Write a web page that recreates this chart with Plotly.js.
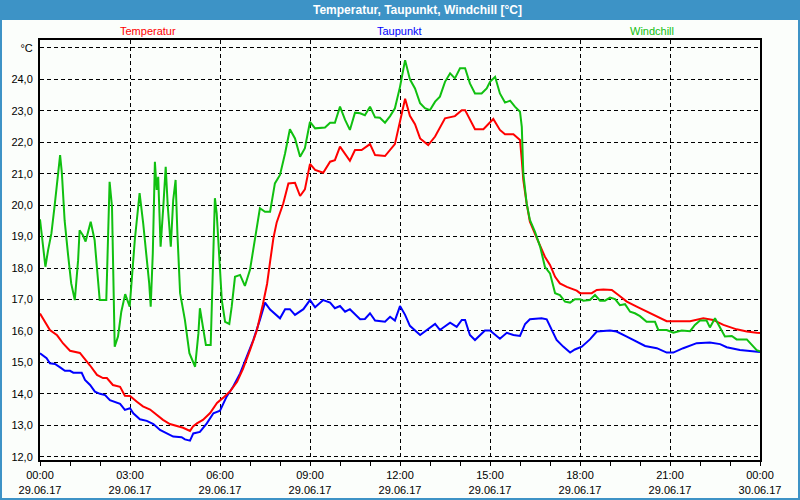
<!DOCTYPE html>
<html>
<head>
<meta charset="utf-8">
<script src="https://cdn.plot.ly/plotly-3.0.1.min.js"></script>
<style>html,body{margin:0;padding:0;background:#fbfefb;}#chart{width:800px;height:500px;}</style>
</head>
<body>
<div id="chart"></div>
<script>
// ---- data (hours since 29.06.17 00:00, °C) ----
const tempHours = [0.00,0.33,0.57,0.77,1.00,1.33,1.67,1.90,2.10,2.23,2.43,2.67,2.83,3.00,3.23,3.43,3.67,3.90,4.10,4.33,4.57,4.77,5.00,5.10,5.23,5.43,5.67,5.90,6.10,6.33,6.57,6.77,7.00,7.23,7.43,7.57,7.67,7.78,7.89,8.00,8.11,8.28,8.50,8.67,8.83,9.00,9.17,9.44,9.67,9.83,10.00,10.33,10.50,10.72,11.00,11.17,11.50,11.83,12.00,12.17,12.33,12.50,12.67,12.94,13.17,13.50,13.83,14.06,14.17,14.50,14.78,15.11,15.33,15.50,15.78,16.00,16.06,16.11,16.22,16.33,16.56,16.83,17.00,17.17,17.33,17.56,17.89,18.00,18.39,18.56,18.78,19.06,19.28,19.56,19.89,20.22,20.56,20.89,21.67,22.11,22.44,22.78,23.22,23.56,23.89,24.00];
const tempValues = [16.55,16.03,15.86,15.60,15.37,15.30,14.90,14.60,14.50,14.50,14.28,14.22,13.94,13.93,13.75,13.60,13.50,13.33,13.17,13.04,12.98,12.92,12.82,12.96,13.06,13.17,13.39,13.71,13.87,14.07,14.38,14.80,15.39,16.02,16.85,17.50,18.20,18.95,19.45,19.75,20.06,20.69,20.71,20.29,20.50,21.31,21.12,21.03,21.38,21.43,21.86,21.41,21.75,21.75,21.94,21.59,21.56,21.94,22.71,23.38,22.84,22.57,22.12,21.91,22.18,22.76,22.83,23.02,23.02,22.41,22.41,22.74,22.39,22.25,22.25,22.07,21.43,20.80,20.06,19.47,18.95,18.36,18.10,17.72,17.51,17.40,17.28,17.20,17.20,17.30,17.32,17.30,17.14,16.93,16.77,16.61,16.45,16.31,16.31,16.40,16.35,16.19,16.05,15.98,15.94,15.93];

const dewHours = [0.00,0.22,0.33,0.50,0.67,0.83,1.00,1.11,1.39,1.50,1.67,1.83,2.00,2.17,2.33,2.50,2.67,2.83,3.00,3.11,3.33,3.56,3.78,4.00,4.22,4.44,4.72,4.83,5.00,5.11,5.33,5.56,5.78,6.00,6.22,6.44,6.67,6.89,7.11,7.33,7.50,7.67,7.89,8.00,8.17,8.33,8.50,8.78,9.00,9.17,9.44,9.67,9.83,10.00,10.17,10.33,10.67,10.83,11.00,11.17,11.50,11.67,11.83,12.00,12.17,12.33,12.67,13.00,13.17,13.33,13.67,13.89,14.06,14.17,14.33,14.50,14.83,15.00,15.33,15.56,15.78,16.00,16.17,16.33,16.72,16.89,17.06,17.22,17.44,17.67,17.83,18.06,18.33,18.56,19.00,19.22,19.56,19.89,20.17,20.56,20.89,21.11,21.44,21.89,22.33,22.67,22.89,23.33,23.78,24.00];
const dewValues = [15.29,15.13,14.97,14.95,14.84,14.73,14.73,14.67,14.67,14.44,14.28,14.07,14.00,13.96,13.80,13.73,13.68,13.49,13.54,13.38,13.19,13.14,13.04,12.85,12.74,12.64,12.62,12.55,12.51,12.74,12.79,13.06,13.38,13.46,13.91,14.23,14.65,15.18,15.71,16.35,16.90,16.68,16.51,16.40,16.69,16.69,16.51,16.69,16.98,16.75,16.98,16.90,16.72,16.79,16.61,16.69,16.37,16.38,16.56,16.33,16.29,16.45,16.33,16.79,16.51,16.16,15.87,16.11,16.22,16.03,16.26,16.13,16.35,16.35,15.87,15.71,16.01,16.01,15.75,15.94,15.87,15.84,16.22,16.37,16.40,16.37,16.03,15.71,15.50,15.31,15.41,15.50,15.73,15.98,16.01,15.98,15.82,15.66,15.52,15.45,15.31,15.31,15.45,15.61,15.63,15.58,15.48,15.39,15.36,15.33];

const chillHours = [0.00,0.13,0.18,0.27,0.38,0.49,0.60,0.67,0.73,0.82,0.93,1.04,1.16,1.27,1.32,1.43,1.52,1.69,1.82,1.99,2.21,2.27,2.32,2.40,2.49,2.60,2.71,2.84,2.99,3.16,3.32,3.44,3.56,3.64,3.69,3.76,3.83,3.89,3.94,4.02,4.11,4.19,4.26,4.36,4.44,4.52,4.58,4.67,4.83,4.98,5.17,5.28,5.33,5.44,5.53,5.69,5.76,5.83,5.89,5.96,6.06,6.17,6.31,6.39,6.50,6.67,6.83,7.00,7.17,7.33,7.50,7.67,7.83,8.00,8.17,8.33,8.50,8.67,8.83,9.00,9.17,9.50,9.67,9.83,10.00,10.17,10.33,10.50,10.67,10.83,11.00,11.17,11.33,11.50,11.67,11.83,12.00,12.17,12.33,12.50,12.67,12.83,13.00,13.17,13.33,13.50,13.67,13.83,14.00,14.17,14.33,14.50,14.72,14.89,15.00,15.17,15.33,15.50,15.67,15.83,16.00,16.06,16.11,16.22,16.33,16.50,16.67,16.83,17.00,17.17,17.33,17.50,17.67,17.83,18.00,18.11,18.33,18.50,18.67,18.83,19.00,19.17,19.33,19.50,19.67,19.83,20.00,20.22,20.50,20.61,20.89,21.11,21.39,21.67,21.83,22.00,22.22,22.33,22.50,22.67,22.83,23.06,23.22,23.56,23.72,23.89,24.00];
const chillValues = [19.55,18.57,18.04,18.57,19.10,20.00,21.01,21.59,21.01,19.52,18.47,17.51,16.98,18.25,19.20,19.04,18.84,19.47,18.89,16.98,16.98,19.10,20.74,19.95,15.50,15.82,16.61,17.17,16.77,18.89,20.38,19.42,18.36,17.51,16.77,18.47,21.38,20.48,20.90,18.68,19.95,21.22,19.95,18.68,20.16,20.80,19.10,17.20,16.35,15.29,14.86,15.92,16.72,16.13,15.55,15.55,17.83,20.22,19.74,18.68,16.98,16.29,16.22,16.77,17.72,17.78,17.43,17.94,18.89,19.90,19.79,19.79,20.69,20.96,21.65,22.41,22.12,21.54,21.81,22.65,22.44,22.47,22.62,22.62,23.13,22.71,22.39,22.94,22.92,22.86,23.13,22.79,22.78,22.62,22.83,23.08,23.76,24.61,24.00,23.71,23.24,23.08,23.02,23.29,23.45,23.92,24.19,24.03,24.35,24.35,23.87,23.55,23.55,23.71,23.92,24.08,23.55,23.26,23.32,23.13,22.97,22.49,21.01,20.06,19.53,19.15,18.68,18.04,17.83,17.20,17.14,16.93,16.90,17.01,17.01,16.96,16.98,17.14,16.96,16.96,17.06,17.01,16.82,16.85,16.61,16.56,16.47,16.29,16.29,16.03,16.03,15.94,16.01,15.99,16.19,16.33,16.33,16.11,16.40,16.11,15.82,15.84,15.73,15.73,15.55,15.39,15.35];

const seriesNames = ['Temperatur','Taupunkt','Windchill'];
const seriesColors = ['#ff0000','#0000ff','#10c010'];

const xTickVals = [0,3,6,9,12,15,18,21,24];
const xTickText = ['00:00<br>29.06.17','03:00<br>29.06.17','06:00<br>29.06.17','09:00<br>29.06.17','12:00<br>29.06.17','15:00<br>29.06.17','18:00<br>29.06.17','21:00<br>29.06.17','00:00<br>30.06.17'];
const yTickVals = [12,13,14,15,16,17,18,19,20,21,22,23,24,25];
const yTickText = ['12,0','13,0','14,0','15,0','16,0','17,0','18,0','19,0','20,0','21,0','22,0','23,0','24,0','°C'];

const chartTitle = 'Temperatur, Taupunkt, Windchill [°C]';

// ---- figure ----
const W = 800, H = 500, mL = 40, mR = 40, mT = 40, mB = 40;
const pw = W - mL - mR, ph = H - mT - mB;
const px = x => (x - mL) / pw;          // pixel -> paper x
const py = y => (H - mB - y) / ph;      // pixel -> paper y

const traces = [
  {x: dewHours, y: dewValues, name: seriesNames[1], color: seriesColors[1]},
  {x: tempHours, y: tempValues, name: seriesNames[0], color: seriesColors[0]},
  {x: chillHours, y: chillValues, name: seriesNames[2], color: seriesColors[2]}
].map(s => ({x: s.x, y: s.y, name: s.name, type: 'scatter', mode: 'lines',
  line: {color: s.color, width: 2}, hoverinfo: 'skip'}));

const font = {family: 'Liberation Sans, Arial, sans-serif', size: 11, color: '#000'};

const layout = {
  width: W, height: H,
  margin: {l: mL, r: mR, t: mT, b: mB, pad: 0},
  paper_bgcolor: '#fbfefb', plot_bgcolor: '#fbfefb',
  showlegend: false,
  font: font,
  xaxis: {
    range: [0, 24], tickmode: 'array', tickvals: xTickVals, ticktext: xTickText,
    showgrid: true, gridcolor: '#000', gridwidth: 1, griddash: '4px,3px',
    zeroline: false, showline: true, linecolor: '#000', linewidth: 2, mirror: true,
    ticks: 'outside', ticklen: 4, tickcolor: '#000', tickwidth: 1,
    minor: {tickmode: 'linear', tick0: 0, dtick: 1, ticks: 'outside', ticklen: 4, tickcolor: '#000', showgrid: false},
    tickfont: font, fixedrange: true
  },
  yaxis: {
    range: [11.895, 25.25], tickmode: 'array', tickvals: yTickVals, ticktext: yTickText,
    showgrid: true, gridcolor: '#000', gridwidth: 1, griddash: '4px,3px',
    zeroline: false, showline: true, linecolor: '#000', linewidth: 2, mirror: true,
    ticks: '', ticklabelstandoff: 3, tickfont: font, fixedrange: true
  },
  shapes: [
    {type: 'rect', xref: 'paper', yref: 'paper', layer: 'below',
     x0: px(0), x1: px(W), y0: py(20), y1: py(0), fillcolor: '#3d93c6', line: {width: 0}},
    {type: 'rect', xref: 'paper', yref: 'paper',
     x0: px(0), x1: px(W), y0: py(H), y1: py(0), fillcolor: 'rgba(0,0,0,0)', line: {color: '#3d93c6', width: 4}}
  ],
  annotations: [
    {xref: 'paper', yref: 'paper', x: px(417), y: py(10), xanchor: 'center', yanchor: 'middle',
     text: '<b>' + chartTitle + '</b>', showarrow: false, font: {family: font.family, size: 12, color: '#ffffff'}},
    {xref: 'paper', yref: 'paper', x: px(148), y: py(31), xanchor: 'center', yanchor: 'middle',
     text: seriesNames[0], showarrow: false, font: {family: font.family, size: 11, color: seriesColors[0]}},
    {xref: 'paper', yref: 'paper', x: px(399), y: py(31), xanchor: 'center', yanchor: 'middle',
     text: seriesNames[1], showarrow: false, font: {family: font.family, size: 11, color: seriesColors[1]}},
    {xref: 'paper', yref: 'paper', x: px(652), y: py(31), xanchor: 'center', yanchor: 'middle',
     text: seriesNames[2], showarrow: false, font: {family: font.family, size: 11, color: seriesColors[2]}}
  ]
};

Plotly.newPlot('chart', traces, layout, {staticPlot: true, displayModeBar: false});
</script>
</body>
</html>
